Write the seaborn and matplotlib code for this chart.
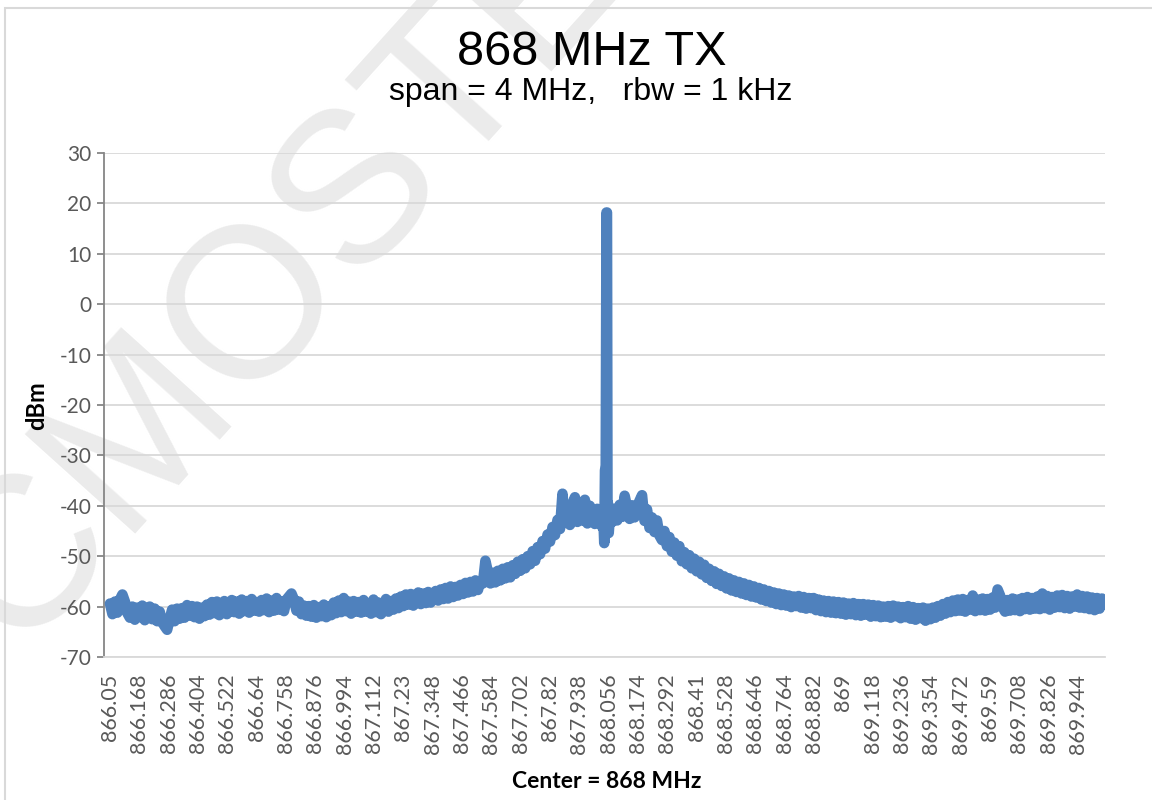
import numpy as np
import pandas as pd
import matplotlib.pyplot as plt
from matplotlib.patches import Rectangle
import seaborn as sns

# sweep 866.05 .. 870.05 MHz, trace read every 10 kHz away from the carrier
left_start, left_stop = 866.05, 868.03
right_start, right_stop = 868.07, 870.05

left_dbm = [
    -59.4, -61.5, -59.0, -61.2, -58.6, -57.6, -59.0, -61.3, -62.2, -60.0,
    -62.6, -60.2, -62.1, -59.8, -62.7, -60.6, -60.0, -62.5, -60.4, -62.9,
    -61.0, -63.1, -63.9, -64.6, -62.5, -60.6, -62.9, -60.4, -62.4, -60.3,
    -62.2, -59.7, -61.8, -59.9, -62.1, -60.0, -62.4, -60.2, -61.9, -59.6,
    -61.6, -59.1, -61.3, -59.0, -61.7, -59.6, -58.9, -61.5, -59.5, -58.7,
    -61.1, -59.0, -61.4, -58.6, -60.9, -58.9, -61.2, -58.5, -60.8, -59.1,
    -61.0, -58.7, -60.7, -58.4, -61.1, -58.8, -60.8, -58.3, -60.6, -59.0,
    -60.9, -58.6, -58.0, -57.4, -58.6, -60.8, -59.0, -61.5, -59.8, -61.8,
    -59.9, -62.0, -59.7, -62.2, -60.1, -61.9, -59.6, -62.1, -60.0, -61.7,
    -59.2, -61.3, -58.8, -61.1, -58.3, -60.9, -59.0, -61.4, -58.9, -61.0,
    -59.1, -61.2, -58.7, -61.0, -59.3, -61.4, -58.6, -61.1, -59.2, -61.5,
    -60.8, -58.5, -61.0, -58.9, -60.6, -58.4, -60.3, -58.0, -59.9, -57.6,
    -59.6, -57.5, -59.8, -57.8, -57.2, -59.5, -57.4, -59.3, -57.1, -59.2,
    -58.2, -56.9, -58.8, -56.6, -58.5, -56.3, -58.4, -56.0, -58.1, -56.1,
    -57.8, -55.7, -57.5, -55.3, -57.2, -55.1, -57.0, -54.8, -56.7, -54.9,
    -55.4, -50.9, -53.2, -55.4, -53.3, -55.2, -52.9, -54.8, -52.5, -54.4,
    -52.2, -54.2, -51.8, -53.5, -51.1, -52.9, -50.6, -52.4, -50.0, -51.6,
    -49.0, -50.9, -48.2, -49.6, -47.0, -48.5, -45.7, -47.1, -44.2, -45.8,
    -42.8, -44.6, -37.6, -43.4, -40.9, -43.8, -39.6, -38.3, -43.2, -40.4,
    -42.9, -38.8, -43.5, -40.0, -42.4, -43.6, -40.6, -43.1, -44.2,
]

carrier_freq = [868.034, 868.038, 868.041, 868.044, 868.047, 868.049,
                868.051, 868.053, 868.056, 868.060, 868.064]
carrier_dbm = [-42.0, -47.4, -33.0, -32.0, 18.2, 18.2,
               -41.0, -39.5, -45.4, -42.5, -43.0]

right_dbm = [
    -43.2, -40.6, -42.9, -39.8, -42.2, -38.0, -40.3, -42.6, -39.9, -42.3,
    -40.2, -39.0, -37.9, -43.0, -40.7, -44.4, -42.3, -45.2, -42.9, -45.9,
    -46.8, -45.0, -48.0, -46.2, -49.1, -47.3, -49.9, -48.0, -51.0, -49.2,
    -51.6, -49.8, -52.4, -50.5, -53.0, -51.1, -53.6, -51.7, -54.3, -52.5,
    -54.9, -53.0, -55.5, -53.5, -55.9, -54.0, -56.4, -54.4, -56.8, -54.8,
    -57.1, -55.1, -57.4, -55.4, -57.7, -55.7, -58.0, -56.0, -58.2, -56.3,
    -58.6, -56.6, -58.9, -56.9, -59.2, -57.2, -59.5, -57.4, -59.7, -57.6,
    -59.8, -57.8, -60.1, -58.0, -59.9, -57.9, -60.2, -58.1, -60.4, -58.3,
    -60.3, -58.3, -60.7, -58.6, -60.9, -58.8, -61.1, -58.9, -61.2, -59.0,
    -61.3, -59.1, -61.4, -59.2, -61.6, -59.4, -61.5, -59.3, -61.7, -59.5,
    -61.8, -59.5, -61.6, -59.6, -62.0, -59.7, -61.9, -59.8, -62.1, -60.0,
    -62.0, -59.9, -62.2, -59.8, -61.9, -60.0, -62.3, -60.1, -62.1, -59.9,
    -62.4, -60.1, -62.6, -60.3, -62.3, -60.2, -62.8, -60.4, -62.5, -60.2,
    -62.2, -59.9, -61.8, -59.5, -61.4, -59.1, -61.1, -58.8, -60.9, -58.6,
    -60.8, -58.5, -61.0, -58.7, -60.6, -57.8, -60.9, -58.6, -60.7, -58.4,
    -60.8, -58.5, -60.6, -58.2, -60.2, -56.6, -57.8, -60.1, -61.0, -58.7,
    -60.8, -58.4, -60.7, -58.6, -60.9, -58.3, -60.5, -58.1, -60.6, -58.3,
    -60.4, -58.0, -60.5, -57.4, -60.3, -57.9, -60.6, -58.1, -60.2, -57.8,
    -60.1, -57.7, -60.3, -57.9, -60.4, -58.0, -60.0, -57.6, -60.2, -57.9,
    -60.3, -58.0, -60.5, -58.2, -60.7, -58.3, -60.4, -58.4, -59.5,
]

tick_labels = ["866.05", "866.168", "866.286", "866.404", "866.522", "866.64",
               "866.758", "866.876", "866.994", "867.112", "867.23", "867.348",
               "867.466", "867.584", "867.702", "867.82", "867.938", "868.056",
               "868.174", "868.292", "868.41", "868.528", "868.646", "868.764",
               "868.882", "869", "869.118", "869.236", "869.354", "869.472",
               "869.59", "869.708", "869.826", "869.944"]
y_ticks = [-70, -60, -50, -40, -30, -20, -10, 0, 10, 20, 30]

freq = np.concatenate([np.linspace(left_start, left_stop, len(left_dbm)),
                       carrier_freq,
                       np.linspace(right_start, right_stop, len(right_dbm))])
dbm = np.concatenate([left_dbm, carrier_dbm, right_dbm])
df = pd.DataFrame({"freq": freq, "dbm": dbm})

sns.set_style("white")
plt.rcParams["font.family"] = ["Lato", "DejaVu Sans"]
plt.rcParams["axes.unicode_minus"] = False

fig = plt.figure(figsize=(11.52, 8), dpi=100)
ax = fig.add_axes([104 / 1152, 1 - 657 / 800, 1001 / 1152, 504 / 800])
ax.set_facecolor("none")

# watermark, behind everything
fig.text(0.288, 0.724, "CMOSTEK", rotation=48, fontsize=155, color="#ebebeb",
         ha="center", va="center", rotation_mode="anchor",
         family="Liberation Sans", zorder=-2)
# chart area border
fig.patches.append(Rectangle((5 / 1152, -0.02), 1.2, 1 - 8 / 800 + 0.02,
                             transform=fig.transFigure, fill=False,
                             edgecolor="#d9d9d9", lw=1.5, zorder=-1))

sns.lineplot(data=df, x="freq", y="dbm", estimator=None, sort=False,
             color="#4F81BD", lw=7.6, ax=ax, zorder=3)
ax.lines[0].set_solid_capstyle("round")
ax.lines[0].set_solid_joinstyle("round")

ax.set_xlim(866.026, 870.052)
ax.set_ylim(-70, 30)
ax.set_yticks(y_ticks)
ax.set_xticks([float(t) for t in tick_labels])
ax.set_xticklabels(tick_labels, rotation=90)
ax.yaxis.grid(True, color="#d9d9d9", lw=1.3)
ax.xaxis.grid(False)
ax.tick_params(axis="y", length=5, width=1.3, color="#868686", labelsize=15,
               labelcolor="#595959", pad=4, left=True)
ax.tick_params(axis="x", length=0, labelsize=15.5, labelcolor="#595959", pad=12)
for s in ["top", "right"]:
    ax.spines[s].set_visible(False)
ax.spines["left"].set_color("#868686")
ax.spines["left"].set_linewidth(1.3)
ax.spines["bottom"].set_color("#d9d9d9")
ax.spines["bottom"].set_linewidth(1.3)

ax.set_xlabel("")
ax.set_ylabel("")
fig.text(37 / 1152, 1 - 406 / 800, "dBm", rotation=90, ha="center", va="center",
         fontsize=17, fontweight="bold", color="black")
fig.text(607 / 1152, 1 - 781 / 800, "Center = 868 MHz", ha="center", va="center",
         fontsize=16.5, fontweight="bold", color="black")

fig.text(592 / 1152, 1 - 65 / 800, "868 MHz TX", ha="center", va="baseline",
         fontsize=35, family="Liberation Sans", color="black")
fig.text(591 / 1152, 1 - 100 / 800, "span = 4 MHz,   rbw = 1 kHz", ha="center",
         va="baseline", fontsize=23, family="Liberation Sans", color="black")

fig.savefig("out.png", dpi=100)
